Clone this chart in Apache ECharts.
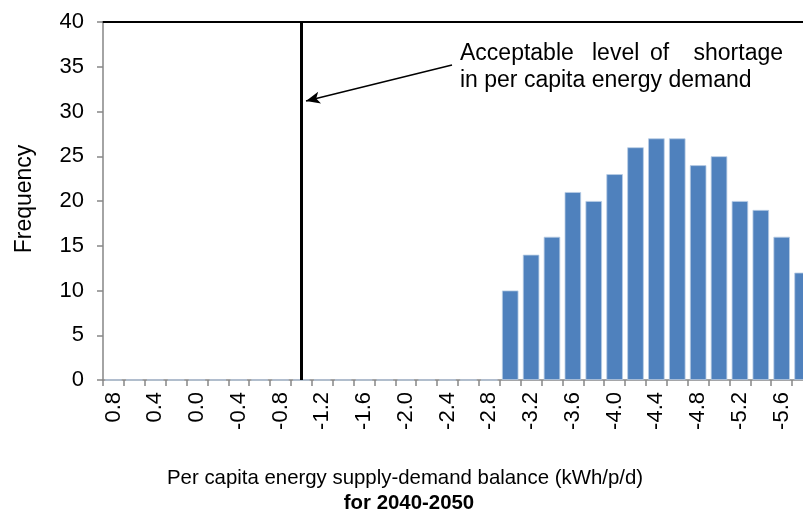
<!DOCTYPE html>
<html><head><meta charset="utf-8">
<script src="https://cdn.jsdelivr.net/npm/echarts@6/dist/echarts.min.js"></script>
<style>html,body{margin:0;padding:0;background:#fff}#c{width:803px;height:517px;overflow:hidden}</style>
</head><body><div id="c"></div>
<script>
// Category labels (kWh/p/d), 0.2 steps; the chart is cropped at the right edge
const categories = ['0.8','0.6','0.4','0.2','0.0','-0.2','-0.4','-0.6','-0.8','-1.0',
  '-1.2','-1.4','-1.6','-1.8','-2.0','-2.2','-2.4','-2.6','-2.8','-3.0',
  '-3.2','-3.4','-3.6','-3.8','-4.0','-4.2','-4.4','-4.6','-4.8','-5.0',
  '-5.2','-5.4','-5.6','-5.8'];
const frequency = [0,0,0,0,0,0,0,0,0,0,
  0,0,0,0,0,0,0,0,0,10,
  14,16,21,20,23,26,27,27,24,25,
  20,19,16,12];
const yMin = 0, yMax = 40, yStep = 5;
const thresholdCategory = '-1.0';
const annotationLine1 = ['Acceptable', 'level', 'of', 'shortage'];
const annotationLine2 = 'in per capita energy demand';
const yTitle = 'Frequency';
const xTitle1 = 'Per capita energy supply-demand balance (kWh/p/d)';
const xTitle2 = 'for 2040-2050';

const FONT = '"Liberation Sans", Arial, sans-serif';
const chart = echarts.init(document.getElementById('c'), null, {renderer: 'canvas'});

const l1x = [460, 592, 650, 783];
const graphics = [];
annotationLine1.forEach((w, i) => graphics.push({
  type: 'text', x: l1x[i], y: 54,
  style: {text: w, font: '23px ' + FONT, fill: '#000',
    textAlign: i === annotationLine1.length - 1 ? 'right' : 'left', textVerticalAlign: 'middle'}
}));
graphics.push({
  type: 'text', x: 460, y: 81,
  style: {text: annotationLine2, font: '23px ' + FONT, fill: '#000', textAlign: 'left', textVerticalAlign: 'middle'}
});
graphics.push({type: 'text', x: 25, y: 199, rotation: Math.PI / 2,
  style: {text: yTitle, font: '23px ' + FONT, fill: '#000', textAlign: 'center', textVerticalAlign: 'middle'}});
graphics.push({type: 'text', x: 405, y: 478,
  style: {text: xTitle1, font: '20.4px ' + FONT, fill: '#000', textAlign: 'center', textVerticalAlign: 'middle'}});
graphics.push({type: 'text', x: 409, y: 503,
  style: {text: xTitle2, font: 'bold 20.4px ' + FONT, fill: '#000', textAlign: 'center', textVerticalAlign: 'middle'}});

chart.setOption({
  animation: false,
  backgroundColor: '#fff',
  textStyle: {fontFamily: FONT},
  grid: {left: 103, top: 22, width: 710, bottom: 137, containLabel: false, outerBoundsMode: 'none'},
  xAxis: [{
    type: 'category', data: categories, position: 'bottom',
    axisLine: {show: true, lineStyle: {color: '#868686', width: 1.5}},
    axisTick: {show: true, interval: 0, length: 6, lineStyle: {color: '#868686', width: 1.5}},
    axisLabel: {interval: 1, rotate: 90, fontSize: 22, color: '#000', margin: 12, fontFamily: FONT},
    splitLine: {show: false}
  }, {
    type: 'category', data: categories, position: 'top',
    axisLine: {show: true, lineStyle: {color: '#000', width: 2}},
    axisTick: {show: false}, axisLabel: {show: false}, splitLine: {show: false}
  }],
  yAxis: {
    type: 'value', min: yMin, max: yMax, interval: yStep,
    axisLine: {show: true, lineStyle: {color: '#868686', width: 1.5}},
    axisTick: {show: true, length: 6, lineStyle: {color: '#868686', width: 1.5}},
    axisLabel: {fontSize: 22, color: '#000', margin: 19, fontFamily: FONT},
    splitLine: {show: false}
  },
  series: [{
    type: 'bar', data: frequency, xAxisIndex: 0,
    barCategoryGap: '21%',
    itemStyle: {color: '#4F81BD', borderColor: '#B9CDE5', borderWidth: 0.8},
    markLine: {
      silent: true, symbol: ['none', 'none'], label: {show: false},
      emphasis: {disabled: true},
      data: [
        {xAxis: thresholdCategory, lineStyle: {color: '#000', width: 3, type: 'solid'}},
        [{x: 452, y: 65, symbol: 'none', lineStyle: {color: '#000', width: 1.5, type: 'solid'}},
         {x: 306, y: 101, symbol: 'arrow', symbolSize: [9, 14]}]
      ]
    }
  }],
  graphic: graphics
});
</script></body></html>
